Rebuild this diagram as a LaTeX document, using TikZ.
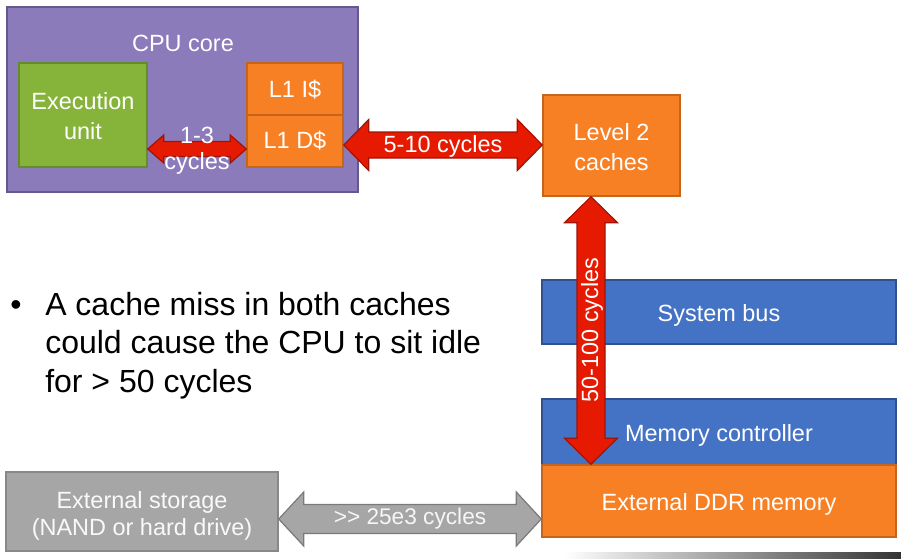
\documentclass[tikz,border=0pt]{standalone}
\usepackage{fontspec}
\setmainfont{Liberation Sans}
\usetikzlibrary{calc,fit}
\definecolor{cpupurple}{HTML}{8B7BBA}
\definecolor{cpuborder}{HTML}{66578F}
\definecolor{exgreen}{HTML}{86B43A}
\definecolor{exborder}{HTML}{648C2A}
\definecolor{cacheorange}{HTML}{F78025}
\definecolor{cacheborder}{HTML}{C4651E}
\definecolor{busblue}{HTML}{4472C4}
\definecolor{busborder}{HTML}{2F528F}
\definecolor{storegray}{HTML}{A6A6A6}
\definecolor{storeborder}{HTML}{888888}
\definecolor{arrowred}{HTML}{E61A00}
\definecolor{arrowborder}{HTML}{A01408}
\definecolor{grayarrow}{HTML}{A6A6A6}
\definecolor{grayarrowborder}{HTML}{7A7A7A}
% box: name, x1, y1, x2, y2, style, label style, text
\newcommand\pxbox[8]{\node[#6, fit={(#2,#3) (#4,#5)}] (#1) {};
  \node[lbl, #7] (#1txt) at (#1.center) {#8};}
% horizontal double block arrow: style, A, B, shaft half, head half, head length
\newcommand\hblock[6]{%
  \draw[#1] (#2) -- ++(#6,-#5) -- ++(0,#5-#4) -- ($(#3)+(-#6,-#4)$) -- ++(0,#4-#5) -- (#3)
    -- ++(-#6,#5) -- ++(0,#4-#5) -- ($(#2)+(#6,#4)$) -- ++(0,#5-#4) -- cycle;}
% vertical double block arrow: style, A(top), B(bottom), shaft half, head half, head length
\newcommand\vblock[6]{%
  \draw[#1] (#2) -- ++(-#5,#6) -- ++(#5-#4,0) -- ($(#3)+(-#4,-#6)$) -- ++(#4-#5,0) -- (#3)
    -- ++(#5,-#6) -- ++(#4-#5,0) -- ($(#2)+(#4,#6)$) -- ++(#5-#4,0) -- cycle;}
\begin{document}
\begin{tikzpicture}[x=0.75pt,y=-0.75pt,
  box/.style={inner sep=0pt, line width=1.1pt},
  lbl/.style={text=white, align=center, inner sep=0pt, font=\fontsize{17.6}{22}\selectfont},
  bullet/.style={anchor=base west, inner sep=0pt, text=black, font=\fontsize{24}{29}\selectfont},
  redblock/.style={fill=arrowred, draw=arrowborder, line width=0.9pt, line join=miter},
  grayblock/.style={fill=grayarrow, draw=grayarrowborder, line width=0.9pt, line join=miter}]
\useasboundingbox (0,0) rectangle (901,558);
% CPU core
\pxbox{cpu}{7}{7}{358}{192}{box, fill=cpupurple, draw=cpuborder}{}{}
\node[lbl] (cputxt) at (183,43) {CPU core};
\pxbox{exec}{19}{63}{147}{167}{box, fill=exgreen, draw=exborder}{yshift=-0.75pt}{Execution\\unit}
\pxbox{l1i}{247}{63}{343}{115}{box, fill=cacheorange, draw=cacheborder}{yshift=-0.75pt}{L1 I\$}
\pxbox{l1d}{247}{115}{343}{167}{box, fill=cacheorange, draw=cacheborder}{}{L1 D\$}
% Level 2
\pxbox{l2}{543}{95}{680}{196}{box, fill=cacheorange, draw=cacheborder}{yshift=-1pt, font=\fontsize{17.6}{22.5}\selectfont}{Level 2\\caches}
% memory side
\pxbox{bus}{542}{280}{896}{344}{box, fill=busblue, draw=busborder}{yshift=-2.25pt}{System bus}
\pxbox{mc}{542}{399}{896}{465}{box, fill=busblue, draw=busborder}{yshift=-2.25pt}{Memory controller}
\pxbox{ddr}{542}{465}{896}{537}{box, fill=cacheorange, draw=cacheborder}{yshift=-2.25pt}{External DDR memory}
\pxbox{store}{6}{472}{278}{551}{box, fill=storegray, draw=storeborder}{text=white!95!gray, font=\fontsize{17.6}{20.5}\selectfont, yshift=-3.25pt}{External storage\\(NAND or hard drive)}
% helper coordinates
\coordinate (y13) at (0,149);
\coordinate (y510) at (0,145);
\coordinate (xv) at (591,0);
\coordinate (yst) at (0,519);
\coordinate (a1) at (exec.east |- y13);
\coordinate (b1) at (l1d.west |- y13);
\coordinate (a2) at (l1d.east |- y510);
\coordinate (b2) at (l2.west |- y510);
\coordinate (a3) at (l2.south -| xv);
\coordinate (b3) at (ddr.north -| xv);
\coordinate (a4) at (store.east |- yst);
\coordinate (b4) at (ddr.west |- yst);
% arrows
\hblock{redblock}{a1}{b1}{7.5}{14}{16}
\hblock{redblock}{a2}{b2}{13}{25.5}{25}
\vblock{redblock}{a3}{b3}{14}{26.5}{26}
\hblock{grayblock}{a4}{b4}{14.5}{27}{25}
% arrow labels
\node[lbl, font=\fontsize{17.6}{19.5}\selectfont] (t13) at (197,151) {1-3\\cycles};
\node[lbl] (t510) at (443,146) {5-10 cycles};
\node[lbl, rotate=90] (t50) at (592,330) {50-100 cycles};
\node[lbl, text=white!93!gray, font=\fontsize{17}{20}\selectfont] (t25) at (410,519) {>{}> 25e3 cycles};
% bullet text
\node[bullet] (bul) at (10,315) {\textbullet};
\node[bullet] (line1) at (45,315) {A cache miss in both caches};
\node[bullet] (line2) at (45,353.5) {could cause the CPU to sit idle};
\node[bullet] (line3) at (45,392) {for > 50 cycles};
% gradient bar
\shade[left color=white, right color=black!80] (565,552) rectangle (901,558);
\end{tikzpicture}
\end{document}
